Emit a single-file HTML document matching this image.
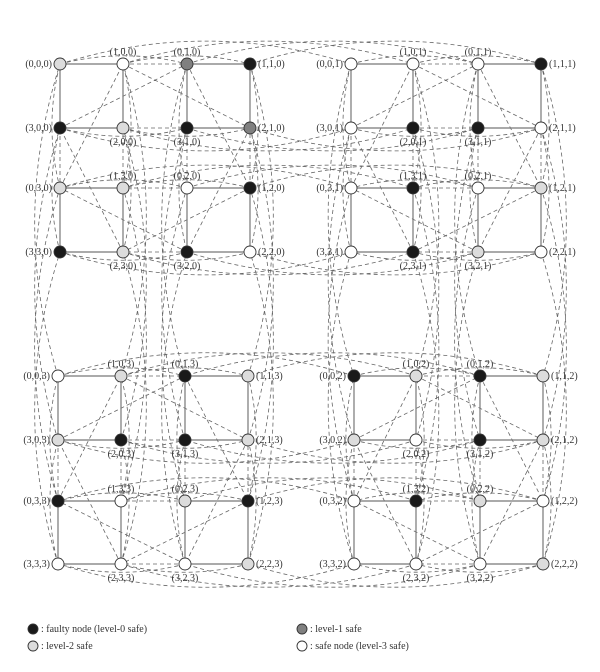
<!DOCTYPE html>
<html><head><meta charset="utf-8"><style>
html,body{margin:0;padding:0;background:#fff;width:600px;height:672px;overflow:hidden}
svg{display:block}
text{font-family:"Liberation Serif",serif;font-size:10px;fill:#333}
.k{fill:#1a1a1a}.d{fill:#808080}.l{fill:#dcdcdc}.w{fill:#fff}
circle{stroke:#333;stroke-width:0.9}
.sq{fill:none;stroke:#777;stroke-width:1.2}
.ds{fill:none;stroke:#666;stroke-width:0.8;stroke-dasharray:4 3}
</style></head><body>
<svg id="s" width="600" height="672" viewBox="0 0 600 672">
<g id="dash"></g>
<g>
<polygon class="sq" points="60,64 123,64 123,128 60,128"/><polygon class="sq" points="187,64 250,64 250,128 187,128"/>
<polygon class="sq" points="60,188 123,188 123,252 60,252"/><polygon class="sq" points="187,188 250,188 250,252 187,252"/>
<polygon class="sq" points="351,64 413,64 413,128 351,128"/><polygon class="sq" points="478,64 541,64 541,128 478,128"/>
<polygon class="sq" points="351,188 413,188 413,252 351,252"/><polygon class="sq" points="478,188 541,188 541,252 478,252"/>
<polygon class="sq" points="58,376 121,376 121,440 58,440"/><polygon class="sq" points="185,376 248,376 248,440 185,440"/>
<polygon class="sq" points="58,501 121,501 121,564 58,564"/><polygon class="sq" points="185,501 248,501 248,564 185,564"/>
<polygon class="sq" points="354,376 416,376 416,440 354,440"/><polygon class="sq" points="480,376 543,376 543,440 480,440"/>
<polygon class="sq" points="354,501 416,501 416,564 354,564"/><polygon class="sq" points="480,501 543,501 543,564 480,564"/>
</g>
<g>
<!-- TL -->
<circle class="l" cx="60" cy="64" r="6"/><circle class="w" cx="123" cy="64" r="6"/><circle class="d" cx="187" cy="64" r="6"/><circle class="k" cx="250" cy="64" r="6"/>
<circle class="k" cx="60" cy="128" r="6"/><circle class="l" cx="123" cy="128" r="6"/><circle class="k" cx="187" cy="128" r="6"/><circle class="d" cx="250" cy="128" r="6"/>
<circle class="l" cx="60" cy="188" r="6"/><circle class="l" cx="123" cy="188" r="6"/><circle class="w" cx="187" cy="188" r="6"/><circle class="k" cx="250" cy="188" r="6"/>
<circle class="k" cx="60" cy="252" r="6"/><circle class="l" cx="123" cy="252" r="6"/><circle class="k" cx="187" cy="252" r="6"/><circle class="w" cx="250" cy="252" r="6"/>
<!-- TR -->
<circle class="w" cx="351" cy="64" r="6"/><circle class="w" cx="413" cy="64" r="6"/><circle class="w" cx="478" cy="64" r="6"/><circle class="k" cx="541" cy="64" r="6"/>
<circle class="w" cx="351" cy="128" r="6"/><circle class="k" cx="413" cy="128" r="6"/><circle class="k" cx="478" cy="128" r="6"/><circle class="w" cx="541" cy="128" r="6"/>
<circle class="w" cx="351" cy="188" r="6"/><circle class="k" cx="413" cy="188" r="6"/><circle class="w" cx="478" cy="188" r="6"/><circle class="l" cx="541" cy="188" r="6"/>
<circle class="w" cx="351" cy="252" r="6"/><circle class="k" cx="413" cy="252" r="6"/><circle class="l" cx="478" cy="252" r="6"/><circle class="w" cx="541" cy="252" r="6"/>
<!-- BL -->
<circle class="w" cx="58" cy="376" r="6"/><circle class="l" cx="121" cy="376" r="6"/><circle class="k" cx="185" cy="376" r="6"/><circle class="l" cx="248" cy="376" r="6"/>
<circle class="l" cx="58" cy="440" r="6"/><circle class="k" cx="121" cy="440" r="6"/><circle class="k" cx="185" cy="440" r="6"/><circle class="l" cx="248" cy="440" r="6"/>
<circle class="k" cx="58" cy="501" r="6"/><circle class="w" cx="121" cy="501" r="6"/><circle class="l" cx="185" cy="501" r="6"/><circle class="k" cx="248" cy="501" r="6"/>
<circle class="w" cx="58" cy="564" r="6"/><circle class="w" cx="121" cy="564" r="6"/><circle class="w" cx="185" cy="564" r="6"/><circle class="l" cx="248" cy="564" r="6"/>
<!-- BR -->
<circle class="k" cx="354" cy="376" r="6"/><circle class="l" cx="416" cy="376" r="6"/><circle class="k" cx="480" cy="376" r="6"/><circle class="l" cx="543" cy="376" r="6"/>
<circle class="l" cx="354" cy="440" r="6"/><circle class="w" cx="416" cy="440" r="6"/><circle class="k" cx="480" cy="440" r="6"/><circle class="l" cx="543" cy="440" r="6"/>
<circle class="w" cx="354" cy="501" r="6"/><circle class="k" cx="416" cy="501" r="6"/><circle class="l" cx="480" cy="501" r="6"/><circle class="w" cx="543" cy="501" r="6"/>
<circle class="w" cx="354" cy="564" r="6"/><circle class="w" cx="416" cy="564" r="6"/><circle class="w" cx="480" cy="564" r="6"/><circle class="l" cx="543" cy="564" r="6"/>
</g>
<g>
<!-- TL labels -->
<text x="52" y="67" text-anchor="end">(0,0,0)</text><text x="123" y="55" text-anchor="middle">(1,0,0)</text><text x="187" y="55" text-anchor="middle">(0,1,0)</text><text x="258" y="67">(1,1,0)</text>
<text x="52" y="131" text-anchor="end">(3,0,0)</text><text x="123" y="145" text-anchor="middle">(2,0,0)</text><text x="187" y="145" text-anchor="middle">(3,1,0)</text><text x="258" y="131">(2,1,0)</text>
<text x="52" y="191" text-anchor="end">(0,3,0)</text><text x="123" y="179" text-anchor="middle">(1,3,0)</text><text x="187" y="179" text-anchor="middle">(0,2,0)</text><text x="258" y="191">(1,2,0)</text>
<text x="52" y="255" text-anchor="end">(3,3,0)</text><text x="123" y="269" text-anchor="middle">(2,3,0)</text><text x="187" y="269" text-anchor="middle">(3,2,0)</text><text x="258" y="255">(2,2,0)</text>
<!-- TR labels -->
<text x="343" y="67" text-anchor="end">(0,0,1)</text><text x="413" y="55" text-anchor="middle">(1,0,1)</text><text x="478" y="55" text-anchor="middle">(0,1,1)</text><text x="549" y="67">(1,1,1)</text>
<text x="343" y="131" text-anchor="end">(3,0,1)</text><text x="413" y="145" text-anchor="middle">(2,0,1)</text><text x="478" y="145" text-anchor="middle">(3,1,1)</text><text x="549" y="131">(2,1,1)</text>
<text x="343" y="191" text-anchor="end">(0,3,1)</text><text x="413" y="179" text-anchor="middle">(1,3,1)</text><text x="478" y="179" text-anchor="middle">(0,2,1)</text><text x="549" y="191">(1,2,1)</text>
<text x="343" y="255" text-anchor="end">(3,3,1)</text><text x="413" y="269" text-anchor="middle">(2,3,1)</text><text x="478" y="269" text-anchor="middle">(3,2,1)</text><text x="549" y="255">(2,2,1)</text>
<!-- BL labels -->
<text x="50" y="379" text-anchor="end">(0,0,3)</text><text x="121" y="367" text-anchor="middle">(1,0,3)</text><text x="185" y="367" text-anchor="middle">(0,1,3)</text><text x="256" y="379">(1,1,3)</text>
<text x="50" y="443" text-anchor="end">(3,0,3)</text><text x="121" y="457" text-anchor="middle">(2,0,3)</text><text x="185" y="457" text-anchor="middle">(3,1,3)</text><text x="256" y="443">(2,1,3)</text>
<text x="50" y="504" text-anchor="end">(0,3,3)</text><text x="121" y="492" text-anchor="middle">(1,3,3)</text><text x="185" y="492" text-anchor="middle">(0,2,3)</text><text x="256" y="504">(1,2,3)</text>
<text x="50" y="567" text-anchor="end">(3,3,3)</text><text x="121" y="581" text-anchor="middle">(2,3,3)</text><text x="185" y="581" text-anchor="middle">(3,2,3)</text><text x="256" y="567">(2,2,3)</text>
<!-- BR labels -->
<text x="346" y="379" text-anchor="end">(0,0,2)</text><text x="416" y="367" text-anchor="middle">(1,0,2)</text><text x="480" y="367" text-anchor="middle">(0,1,2)</text><text x="551" y="379">(1,1,2)</text>
<text x="346" y="443" text-anchor="end">(3,0,2)</text><text x="416" y="457" text-anchor="middle">(2,0,2)</text><text x="480" y="457" text-anchor="middle">(3,1,2)</text><text x="551" y="443">(2,1,2)</text>
<text x="346" y="504" text-anchor="end">(0,3,2)</text><text x="416" y="492" text-anchor="middle">(1,3,2)</text><text x="480" y="492" text-anchor="middle">(0,2,2)</text><text x="551" y="504">(1,2,2)</text>
<text x="346" y="567" text-anchor="end">(3,3,2)</text><text x="416" y="581" text-anchor="middle">(2,3,2)</text><text x="480" y="581" text-anchor="middle">(3,2,2)</text><text x="551" y="567">(2,2,2)</text>
</g>
<g>
<circle class="k" cx="33" cy="629" r="5"/><text x="41" y="632">: faulty node (level-0 safe)</text>
<circle class="l" cx="33" cy="646" r="5"/><text x="41" y="649">: level-2 safe</text>
<circle class="d" cx="302" cy="629" r="5"/><text x="310" y="632">: level-1 safe</text>
<circle class="w" cx="302" cy="646" r="5"/><text x="310" y="649">: safe node (level-3 safe)</text>
</g>
</svg>
<script>
(function(){
var X={0:[60,123,187,250],1:[351,413,478,541],3:[58,121,185,248],2:[354,416,480,543]};
var Y={0:[64,128,188,252],1:[64,128,188,252],3:[376,440,501,564],2:[376,440,501,564]};
var M={0:[0,0],1:[1,0],2:[1,1],3:[0,1]};
function P(a,b,c){var col=2*M[b][0]+M[a][0],row=2*M[b][1]+M[a][1];return [X[c][col],Y[c][row],col,row];}
var g=document.getElementById('dash'),ns='http://www.w3.org/2000/svg',d='';
function edge(p,q,k){
 var mx=(p[0]+q[0])/2,my=(p[1]+q[1])/2,dx=q[0]-p[0],dy=q[1]-p[1],len=Math.sqrt(dx*dx+dy*dy);
 var cx=mx,cy=my;
 if(Math.abs(dy)<8){var s=(p[3]%2==0)?-1:1;cy=my+s*(0.13*len+8*k);}
 else if(Math.abs(dx)<8){var s2=(p[2]%2==0)?-1:1;cx=mx+s2*(0.13*len+8*k);}
 d+='M'+p[0]+','+p[1]+'Q'+cx.toFixed(1)+','+cy.toFixed(1)+' '+q[0]+','+q[1];
}
for(var a=0;a<4;a++)for(var b=0;b<4;b++)for(var c=0;c<4;c++){
 var p=P(a,b,c);
 edge(p,P(a,(b+1)%4,c),0);
 edge(p,P(a,b,(c+1)%4),1);
 // extra diagonal-ish connections for visual density
 var q=P((a+1)%4,(b+1)%4,c);d+='M'+p[0]+','+p[1]+'L'+q[0]+','+q[1];
}
var e=document.createElementNS(ns,'path');e.setAttribute('d',d);e.setAttribute('class','ds');g.appendChild(e);
})();
</script>
</body></html>
